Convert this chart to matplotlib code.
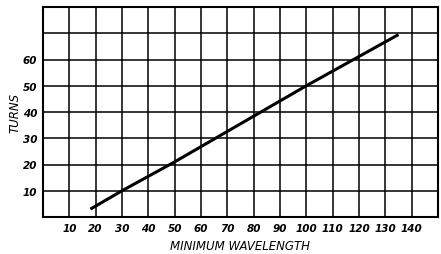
import matplotlib
matplotlib.use("Agg")
import matplotlib.pyplot as plt

wavelength = [18, 30, 50, 100, 135]
turns = [3, 10, 21, 50, 69.5]
x_ticks = [10, 20, 30, 40, 50, 60, 70, 80, 90, 100, 110, 120, 130, 140]
y_ticks = [10, 20, 30, 40, 50, 60]

fig = plt.figure(figsize=(4.41, 2.55), dpi=100)
ax = fig.add_axes([43/441, 1-218/255, (438-43)/441, (218-8)/255])
ax.set_xlim(0, 150)
ax.set_ylim(0, 80)

for v in range(10, 150, 10):
    ax.axvline(v, color="black", lw=1.1, zorder=1)
for v in range(10, 80, 10):
    ax.axhline(v, color="black", lw=1.1, zorder=1)
for s in ax.spines.values():
    s.set_linewidth(1.5)

ax.plot(wavelength, turns, color="black", lw=2.2, solid_capstyle="butt", zorder=3)

ax.set_xticks(x_ticks)
ax.set_yticks(y_ticks)
ax.set_xticklabels([str(t) for t in x_ticks], fontsize=7.5, fontweight="bold", fontstyle="italic")
ax.set_yticklabels([str(t) for t in y_ticks], fontsize=7.5, fontweight="bold", fontstyle="italic")
ax.tick_params(length=0, pad=4)
ax.set_xlabel("MINIMUM WAVELENGTH", fontsize=8.5, fontstyle="italic", labelpad=5)
ax.set_ylabel("TURNS", fontsize=8.5, fontstyle="italic", labelpad=1)

fig.savefig("out.png", dpi=100)
